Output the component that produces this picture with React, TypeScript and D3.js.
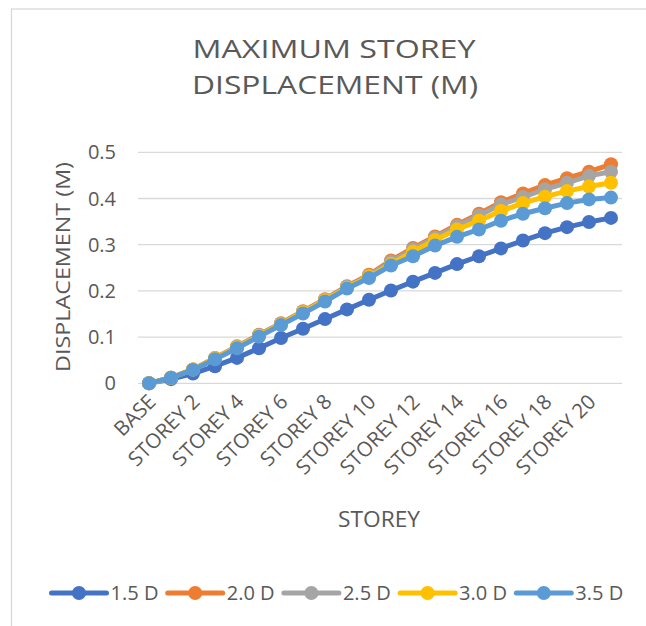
import React from "react";
import * as d3 from "d3";

const categories: string[] = ["BASE", ...Array.from({ length: 21 }, (_, i) => `STOREY ${i + 1}`)];
const seriesNames = ["1.5 D", "2.0 D", "2.5 D", "3.0 D", "3.5 D"];
const colors = ["#4472C4", "#ED7D31", "#A5A5A5", "#FFC000", "#5B9BD5"];
const d15 = [0, 0.009, 0.021, 0.037, 0.055, 0.076, 0.098, 0.118, 0.139, 0.16, 0.181, 0.201, 0.22, 0.239, 0.258, 0.275, 0.292, 0.309, 0.325, 0.338, 0.349, 0.358];
const d20 = [0, 0.012, 0.03, 0.055, 0.08, 0.105, 0.13, 0.156, 0.182, 0.21, 0.235, 0.266, 0.293, 0.318, 0.343, 0.367, 0.392, 0.411, 0.429, 0.444, 0.458, 0.474];
const d25 = [0, 0.012, 0.03, 0.054, 0.079, 0.104, 0.129, 0.155, 0.181, 0.209, 0.233, 0.263, 0.29, 0.315, 0.34, 0.363, 0.387, 0.403, 0.42, 0.434, 0.449, 0.458];
const d30 = [0, 0.012, 0.03, 0.054, 0.078, 0.103, 0.128, 0.154, 0.18, 0.207, 0.231, 0.258, 0.285, 0.31, 0.333, 0.352, 0.373, 0.39, 0.404, 0.416, 0.426, 0.434];
const d35 = [0, 0.012, 0.029, 0.052, 0.076, 0.101, 0.126, 0.151, 0.177, 0.205, 0.228, 0.255, 0.275, 0.298, 0.317, 0.333, 0.352, 0.367, 0.379, 0.39, 0.398, 0.402];
const seriesData = [d15, d20, d25, d30, d35];
const yTicks = [0, 0.1, 0.2, 0.3, 0.4, 0.5];

const FONT = "'Open Sans', sans-serif";
const TXT = "#595959";

export default function App() {
  const x = d3.scaleBand<string>().domain(categories).range([138, 622]);
  const y = d3.scaleLinear().domain([0, 0.5]).range([383.3, 152.3]);
  const cx = (c: string) => (x(c) ?? 0) + x.bandwidth() / 2;
  const line = d3
    .line<number>()
    .x((_, i) => cx(categories[i]))
    .y((v) => y(v));

  return (
    <svg width={646} height={626} style={{ position: "absolute", left: 0, top: 0, background: "#fff" }} fontFamily={FONT}>
      <rect x={0} y={0} width={646} height={626} fill="#fff" />
      <rect x={11.5} y={9} width={1000} height={1000} fill="none" stroke="#D9D9D9" strokeWidth={1.3} />
      <text x={334} y={58} textAnchor="middle" fontSize={25} fill={TXT} textLength={283} lengthAdjust="spacingAndGlyphs">MAXIMUM STOREY</text>
      <text x={335} y={94} textAnchor="middle" fontSize={25} fill={TXT} textLength={286} lengthAdjust="spacingAndGlyphs">DISPLACEMENT (M)</text>

      {yTicks.map((t) => (
        <g key={t}>
          <line x1={138} x2={622} y1={y(t)} y2={y(t)} stroke="#D9D9D9" strokeWidth={1.3} />
          <text x={116} y={y(t)} dy="0.35em" textAnchor="end" fontSize={20} fill={TXT}>{String(t)}</text>
        </g>
      ))}

      <text transform={`translate(63,267) rotate(-90)`} textAnchor="middle" dy="0.35em" fontSize={20} fill={TXT} textLength={210} lengthAdjust="spacingAndGlyphs">DISPLACEMENT (M)</text>

      {categories.map((c, i) =>
        i % 2 === 0 ? (
          <text key={c} transform={`translate(${cx(c) + 3},${398}) rotate(-45)`} textAnchor="end" dy="0.35em" fontSize={20.5} fill={TXT}>{c}</text>
        ) : null
      )}

      <text x={379} y={527} textAnchor="middle" fontSize={21} fill={TXT} textLength={82} lengthAdjust="spacingAndGlyphs">STOREY</text>

      {seriesData.map((s, k) => (
        <g key={seriesNames[k]}>
          <path d={line(s) ?? ""} fill="none" stroke={colors[k]} strokeWidth={5} strokeLinejoin="round" strokeLinecap="round" />
          {s.map((v, i) => (
            <circle key={i} cx={cx(categories[i])} cy={y(v)} r={7} fill={colors[k]} />
          ))}
        </g>
      ))}

      {seriesNames.map((n, k) => {
        const x0 = 51.5 + k * 116.2;
        return (
          <g key={n}>
            <line x1={x0} x2={x0 + 55} y1={593} y2={593} stroke={colors[k]} strokeWidth={5} strokeLinecap="round" />
            <circle cx={x0 + 27.5} cy={593} r={7} fill={colors[k]} />
            <text x={x0 + 59} y={593} dy="0.35em" fontSize={20.5} fill={TXT} textLength={48} lengthAdjust="spacingAndGlyphs">{n}</text>
          </g>
        );
      })}
    </svg>
  );
}
